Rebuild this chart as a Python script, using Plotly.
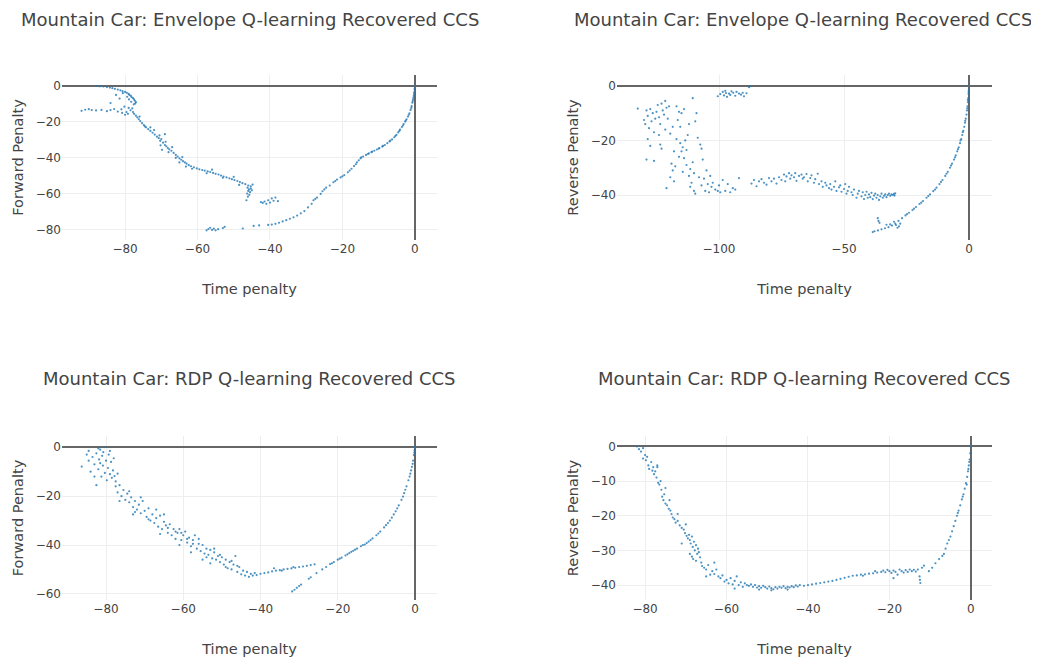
import plotly.graph_objects as go
from plotly.subplots import make_subplots

# ---------------- data ----------------
# Envelope Q-learning: (time penalty, forward penalty)
env_fwd_points = [
    (-88.0,0.0),(-87.0,-0.2),(-86.0,-0.3),(-85.0,-0.6),(-84.2,-0.9),(-83.5,-1.2),(-82.8,-1.6),(-82.0,-2.0),
    (-81.3,-2.4),(-80.7,-2.9),(-80.0,-3.3),(-79.5,-3.8),(-79.0,-4.4),(-78.8,-5.0),(-78.4,-5.5),(-78.2,-6.2),
    (-77.8,-6.8),(-77.5,-7.5),(-77.3,-8.2),(-77.0,-9.0),(-77.2,-9.8),(-77.6,-10.2),(-78.3,-8.8),(-78.9,-7.5),
    (-79.4,-6.0),(-80.6,-4.0),(-82.5,-5.0),(-81.5,-7.0),(-84.0,-9.5),
    (-92.0,-13.8),(-91.0,-13.2),(-90.0,-12.9),(-89.2,-13.4),(-88.0,-13.6),(-86.5,-13.3),(-85.0,-14.0),(-84.0,-13.4),
    (-83.0,-12.8),(-82.0,-14.2),(-81.0,-13.0),(-80.8,-15.0),(-80.2,-11.5),(-79.6,-14.5),(-79.0,-12.2),(-78.5,-13.5),
    (-78.0,-12.5),(-77.8,-14.5),(-80.0,-16.0),(-79.2,-15.5),
    (-77.5,-15.5),(-77.0,-16.5),(-76.6,-17.5),(-76.2,-18.5),(-75.8,-19.5),(-75.3,-20.7),(-74.8,-21.8),(-74.2,-23.0),
    (-73.6,-24.0),(-73.0,-25.0),(-72.4,-26.0),(-71.8,-27.0),(-71.2,-28.2),(-70.7,-29.0),(-70.3,-30.5),(-70.0,-29.5),
    (-69.5,-31.5),(-69.0,-32.8),(-68.6,-33.5),(-68.2,-34.5),(-67.8,-35.2),(-67.2,-36.0),(-66.6,-37.2),(-66.0,-38.3),
    (-65.5,-39.2),(-65.0,-40.2),(-64.5,-41.0),(-64.0,-41.8),(-63.5,-42.5),(-63.0,-43.2),(-62.4,-44.0),(-61.8,-44.6),
    (-61.0,-45.2),(-60.2,-45.8),(-59.5,-46.3),(-58.7,-46.7),(-58.0,-47.0),(-57.2,-47.5),(-56.5,-47.8),(-55.7,-48.3),
    (-55.0,-48.8),(-54.2,-49.2),(-53.5,-49.8),(-52.8,-50.3),(-52.0,-50.8),(-51.2,-51.3),(-50.5,-51.8),(-49.8,-52.3),
    (-49.0,-52.8),(-48.3,-53.4),(-47.6,-54.0),(-46.8,-54.6),(-46.0,-55.3),(-45.3,-55.8),(-44.8,-54.8),
    (-72.0,-24.5),(-70.5,-27.5),(-69.0,-26.8),(-68.8,-31.0),(-70.2,-33.0),(-69.8,-35.5),(-68.0,-36.8),(-67.0,-34.0),
    (-66.0,-40.0),(-65.0,-42.5),(-64.2,-39.5),(-63.2,-44.8),(-61.5,-46.0),(-57.5,-48.5),(-56.0,-46.5),(-53.0,-51.0),
    (-50.0,-50.5),(-48.5,-55.0),(-74.5,-22.5),(-73.0,-23.0),(-76.0,-17.0),
    (-46.2,-56.5),(-45.8,-57.5),(-46.0,-58.3),(-45.5,-59.0),(-46.3,-59.8),(-45.7,-60.5),(-46.1,-61.5),(-45.3,-57.0),
    (-46.5,-63.5),(-45.0,-58.0),
    (-42.5,-64.5),(-42.0,-65.0),(-41.5,-64.2),(-41.0,-65.5),(-40.5,-63.5),(-40.0,-64.8),(-39.5,-62.5),(-39.0,-63.8),
    (-38.5,-62.0),(-37.8,-64.0),
    (-57.5,-80.2),(-57.0,-79.5),(-56.5,-78.8),(-56.0,-80.0),(-55.5,-79.3),(-55.0,-80.2),(-54.3,-79.6),(-53.0,-79.0),
    (-52.5,-78.3),(-47.5,-79.2),(-44.5,-77.8),(-43.0,-77.5),(-40.5,-77.2),(-39.5,-77.0),(-38.5,-76.6),(-37.5,-76.0),
    (-36.5,-75.3),(-35.5,-74.6),(-34.5,-73.8),(-33.5,-73.0),(-32.5,-72.0),(-31.5,-70.8),(-30.5,-69.5),(-29.5,-67.5),
    (-28.5,-65.5),(-28.0,-63.5),(-27.0,-62.0),(-26.0,-60.0),(-25.5,-58.5),(-24.5,-56.5),(-23.5,-55.3),(-22.5,-53.5),
    (-21.5,-52.0),(-20.5,-50.8),(-19.5,-49.5),(-18.5,-48.0),(-17.5,-46.0),(-16.8,-44.5),(-16.0,-42.5),(-15.5,-41.3),
    (-15.0,-40.2),(-14.3,-39.2),(-13.5,-38.3),(-12.7,-37.5),(-12.0,-36.8),(-11.2,-36.0),(-10.5,-35.3),(-9.8,-34.5),
    (-9.0,-33.7),(-8.3,-32.8),(-7.6,-31.8),(-7.0,-30.8),(-6.3,-29.7),(-5.7,-28.5),(-5.1,-27.2),(-4.6,-25.8),
    (-4.1,-24.3),(-3.6,-22.8),(-3.1,-21.2),(-2.7,-19.8),(-2.3,-18.5),(-1.9,-17.0),(-1.5,-15.2),(-1.2,-13.3),
    (-0.9,-11.2),(-0.7,-9.3),(-0.5,-7.5),(-0.3,-5.5),(-0.2,-3.5),(-0.1,-1.8),(0.0,0.0),
    (-13.0,-37.8),(-11.8,-36.5),(-10.0,-34.8),(-8.8,-33.3),(-6.8,-30.4),(-5.4,-27.8),(-4.3,-25.0),(-3.3,-22.0),
    (-2.5,-19.2),(-1.7,-16.0),(-1.0,-12.2),(-0.6,-8.4),(-0.4,-6.5),(-0.25,-4.5),(-14.8,-39.7),(-16.3,-43.5),
    (-18.0,-47.0),(-20.0,-50.2),(-22.0,-52.8),(-25.0,-57.5),(-27.5,-62.8),
]

# Envelope Q-learning: (time penalty, reverse penalty)
env_rev_points = [
    (-100.5,-3.8),(-99.5,-3.0),(-98.5,-2.2),(-98.0,-3.5),(-97.2,-2.6),(-96.8,-4.0),(-96.0,-2.8),(-95.5,-3.3),
    (-95.0,-2.0),(-94.3,-2.5),(-93.5,-3.6),(-93.0,-2.2),(-92.0,-2.8),(-91.2,-3.2),(-90.5,-2.5),(-90.0,-3.8),
    (-89.0,-2.7),(-88.0,-0.5),(-87.6,-0.1),(-97.5,-1.8),
    (-132.5,-8.3),(-130.0,-12.5),(-129.5,-14.0),(-129.0,-9.0),(-128.5,-11.0),(-128.0,-15.5),(-127.5,-8.5),(-127.0,-13.0),
    (-126.5,-10.0),(-126.0,-17.0),(-125.5,-12.0),(-125.0,-9.5),(-124.5,-7.0),(-124.0,-11.5),(-123.5,-14.0),(-123.0,-6.5),
    (-122.5,-9.0),(-122.0,-10.5),(-121.5,-5.5),(-121.0,-8.0),(-120.5,-12.0),(-120.0,-7.5),(-128.5,-19.5),(-129.0,-27.0),
    (-126.0,-27.5),(-123.5,-21.5),(-123.0,-23.0),(-121.0,-37.5),(-119.5,-33.5),(-119.0,-28.5),(-118.5,-31.0),(-118.0,-35.0),
    (-117.5,-29.5),(-117.0,-7.5),(-116.5,-12.5),(-116.0,-9.5),(-115.5,-15.0),(-115.0,-10.0),(-115.5,-21.0),(-115.0,-24.0),
    (-114.5,-22.5),(-114.0,-26.5),(-113.5,-20.0),(-113.0,-23.5),(-112.5,-18.0),(-112.0,-33.0),(-111.5,-30.5),(-111.0,-35.5),
    (-110.5,-28.0),(-110.0,-32.0),(-110.5,-4.5),(-109.5,-13.0),(-109.0,-10.0),(-108.5,-19.0),(-108.0,-33.5),(-107.5,-21.5),
    (-107.0,-36.5),(-106.5,-27.0),(-106.0,-34.0),(-105.5,-38.5),(-105.0,-31.0),(-104.5,-36.0),(-104.0,-39.0),(-103.5,-33.0),
    (-103.0,-37.0),(-102.5,-35.5),(-101.5,-38.0),(-100.5,-38.5),(-100.0,-36.5),(-99.5,-39.0),(-98.5,-34.5),(-97.5,-38.5),
    (-96.5,-36.0),(-95.5,-39.0),(-94.5,-37.5),(-93.5,-38.0),(-92.0,-33.8),(-110.0,-38.5),(-109.5,-39.5),(-111.5,-37.0),
    (-113.0,-29.0),(-114.5,-31.5),(-116.0,-26.0),(-117.0,-19.5),(-118.0,-24.0),(-119.5,-17.5),(-121.5,-16.0),(-124.0,-18.0),
    (-127.5,-22.0),(-112.0,-14.0),(-114.0,-8.5),(-118.5,-15.0),(-107.0,-23.0),
    (-87.0,-35.8),(-86.0,-34.5),(-85.0,-36.8),(-84.0,-35.0),(-83.0,-34.2),(-82.0,-35.5),(-81.0,-36.2),(-80.0,-33.8),
    (-79.0,-35.0),(-78.0,-34.0),(-77.0,-35.8),(-76.0,-33.5),(-75.0,-34.5),(-74.0,-32.5),(-73.5,-35.0),(-73.0,-33.2),
    (-72.0,-32.0),(-71.5,-34.0),(-71.0,-32.8),(-70.0,-33.5),(-69.5,-32.0),(-69.0,-34.8),(-68.0,-33.0),(-67.0,-32.5),
    (-66.5,-34.0),(-66.0,-33.5),(-65.0,-32.3),(-64.5,-35.0),(-63.5,-33.8),(-63.0,-32.8),(-62.0,-35.5),(-61.5,-34.2),
    (-60.5,-32.2),(-60.0,-36.0),(-59.0,-35.0),(-58.5,-37.0),(-57.5,-35.5),(-57.0,-36.5),(-56.0,-37.5),(-55.5,-36.0),
    (-55.0,-38.0),(-54.0,-37.0),(-53.5,-35.0),(-53.0,-38.5),(-52.0,-37.2),(-51.5,-36.5),(-51.0,-38.8),(-50.0,-37.8),
    (-49.5,-36.0),(-49.0,-39.5),(-48.5,-38.5),(-48.0,-37.0),(-47.0,-39.0),(-46.5,-40.0),(-46.0,-38.0),(-45.0,-41.0),
    (-44.5,-39.5),(-44.0,-38.5),(-43.0,-40.5),(-42.5,-39.0),(-42.0,-41.5),(-41.5,-40.0),(-41.0,-38.8),(-40.5,-41.0),
    (-40.0,-39.8),(-39.5,-40.8),(-39.0,-39.2),(-38.5,-41.5),(-38.0,-40.2),(-37.5,-39.5),(-37.0,-41.0),(-36.5,-40.0),
    (-36.0,-41.8),(-35.5,-40.5),(-35.0,-39.5),(-34.5,-41.0),(-34.0,-40.3),(-33.5,-39.8),(-33.0,-40.8),(-32.5,-40.0),
    (-32.0,-39.5),(-31.5,-40.3),(-31.0,-39.8),(-30.5,-40.0),(-30.0,-39.6),(-29.8,-40.2),(-29.5,-39.4),
    (0.0,0.0),(-0.1,-1.5),(-0.2,-3.0),(-0.3,-4.5),(-0.45,-6.0),(-0.6,-7.5),(-0.8,-9.0),(-1.0,-10.5),
    (-1.3,-12.0),(-1.6,-13.5),(-1.9,-15.0),(-2.3,-16.5),(-2.7,-18.0),(-3.1,-19.5),(-3.6,-21.0),(-4.1,-22.5),
    (-4.7,-24.0),(-5.3,-25.5),(-6.0,-27.0),(-6.8,-28.5),(-7.6,-30.0),(-8.5,-31.5),(-9.5,-33.0),(-10.6,-34.5),
    (-11.8,-36.0),(-13.0,-37.3),(-14.3,-38.6),(-15.6,-39.8),(-17.0,-41.0),(-18.4,-42.2),(-19.8,-43.3),(-21.2,-44.4),
    (-22.6,-45.5),(-24.0,-46.5),(-25.4,-47.5),(-26.8,-48.5),(-28.2,-49.5),(-29.5,-50.5),(-30.8,-51.2),(-32.2,-51.8),
    (-33.6,-52.2),(-35.0,-52.6),(-36.4,-53.0),(-37.8,-53.3),(-38.5,-53.6),
    (-28.0,-51.5),(-28.6,-52.0),(-29.2,-51.0),(-30.0,-49.8),(-27.5,-50.5),(-31.5,-50.8),(-33.0,-50.9),(-36.5,-48.5),
    (-36.2,-49.5),(-35.8,-50.2),(-1.5,-12.8),(-2.5,-17.0),(-3.4,-20.0),(-4.4,-23.2),(-5.6,-26.2),(-7.2,-29.2),
    (-9.0,-32.2),(-11.2,-35.2),(-13.6,-38.0),(-16.3,-40.4),(-19.1,-42.8),(-22.0,-45.0),(-24.8,-47.0),(-0.5,-5.2),
    (-0.7,-8.2),(-0.15,-2.2),
]

# RDP Q-learning: (time penalty, forward penalty)
rdp_fwd_points = [
    (-86.3,-7.9),(-85.0,-3.0),(-84.5,-5.5),(-84.0,-10.0),(-83.5,-4.0),(-83.0,-7.0),(-82.5,-2.5),(-82.0,-9.0),
    (-81.8,-5.0),(-81.5,-1.0),(-81.2,-12.0),(-81.0,-3.5),(-80.8,-7.5),(-80.5,0.0),(-80.3,-10.5),(-80.0,-5.5),
    (-79.8,-13.5),(-79.5,-8.5),(-79.3,-3.0),(-79.0,-11.0),(-78.7,-6.0),(-78.5,-12.5),(-78.2,-9.5),(-78.0,-4.5),
    (-77.8,-11.8),(-77.5,-14.0),(-77.0,-10.8),(-82.5,-15.5),(-83.0,-12.0),(-81.5,-6.5),(-80.7,-2.0),(-79.0,-1.5),
    (-84.5,-1.5),(-82.0,-0.5),
    (-77.5,-16.0),(-77.0,-18.5),(-76.5,-15.5),(-76.0,-20.0),(-75.5,-17.5),(-75.0,-21.5),(-74.5,-19.0),(-74.0,-22.5),
    (-73.5,-20.5),(-73.0,-24.5),(-72.5,-22.0),(-72.0,-25.5),(-71.5,-23.5),(-71.0,-27.0),(-70.5,-22.0),(-70.0,-26.0),
    (-69.5,-28.5),(-69.0,-25.0),(-68.5,-30.0),(-68.0,-27.5),(-67.5,-31.0),(-67.0,-29.0),(-66.5,-32.5),(-66.0,-28.0),
    (-65.5,-33.5),(-65.0,-30.5),(-64.5,-32.0),(-64.0,-35.0),(-63.5,-31.5),(-63.0,-36.0),(-62.5,-33.5),(-62.0,-37.5),
    (-61.5,-35.0),(-61.0,-33.5),(-60.5,-38.0),(-60.0,-36.0),(-59.5,-34.5),(-59.0,-39.0),(-58.5,-37.0),(-58.0,-40.5),
    (-57.5,-38.0),(-57.0,-36.0),(-56.5,-41.5),(-56.0,-39.5),(-55.5,-42.5),(-55.0,-40.0),(-54.5,-43.5),(-54.0,-41.5),
    (-53.5,-44.0),(-53.0,-42.0),(-52.5,-45.5),(-52.0,-43.0),(-51.5,-46.0),(-51.0,-44.5),(-50.5,-47.0),(-50.0,-45.0),
    (-49.5,-48.0),(-49.0,-46.0),(-48.5,-49.5),(-48.0,-47.0),(-47.5,-50.0),(-47.0,-48.0),(-46.5,-44.5),(-46.0,-51.0),
    (-45.5,-49.0),(-45.0,-52.0),(-44.5,-50.5),(-44.0,-52.5),(-43.5,-51.0),(-43.0,-53.0),(-42.5,-51.8),(-42.0,-52.5),
    (-41.5,-51.5),(-41.0,-52.3),
    (-74.0,-18.0),(-72.5,-26.5),(-71.0,-20.5),(-69.0,-29.5),(-67.0,-25.5),(-65.0,-27.5),(-64.0,-33.0),(-62.0,-34.5),
    (-60.5,-35.0),(-59.0,-37.5),(-57.5,-39.5),(-56.0,-37.5),(-54.0,-45.0),(-52.0,-41.5),(-50.5,-44.0),(-49.0,-49.0),
    (-47.5,-46.5),(-46.0,-48.5),(-58.0,-43.0),(-55.0,-46.0),(-53.0,-47.5),(-76.5,-22.0),(-73.0,-27.5),(-66.0,-35.5),
    (-61.0,-40.0),
    (-40.0,-51.8),(-39.0,-51.5),(-38.0,-51.2),(-37.0,-50.8),(-36.5,-49.5),(-36.0,-50.5),(-35.0,-50.3),(-34.0,-50.0),
    (-33.0,-49.8),(-32.0,-49.6),(-31.0,-49.3),(-30.0,-49.0),(-29.0,-48.8),(-28.0,-48.5),(-27.0,-48.2),(-26.0,-47.9),
    (-34.5,-50.5),(-31.5,-49.0),
    (-31.8,-59.0),(-31.2,-58.3),(-30.6,-57.5),(-30.0,-56.8),(-29.5,-56.2),(-27.5,-53.8),(-27.0,-53.2),(-25.5,-51.5),
    (-24.0,-50.0),(-23.0,-49.0),(-22.0,-47.8),(-21.0,-47.0),(-20.0,-46.0),(-19.0,-45.2),(-18.0,-44.3),(-17.0,-43.3),
    (-16.0,-42.4),(-15.0,-41.5),(-14.0,-40.5),(-13.0,-39.8),(-12.0,-38.6),(-11.0,-37.3),(-10.0,-36.0),(-9.0,-34.5),
    (-8.0,-32.8),(-7.0,-31.0),(-6.0,-28.8),(-5.0,-26.2),(-4.2,-23.8),(-3.5,-21.5),(-2.8,-18.8),(-2.2,-16.0),
    (-1.7,-13.5),(-1.2,-10.8),(-0.8,-8.0),(-0.5,-5.5),(-0.3,-3.2),(-0.1,-1.2),(0.0,0.0),
    (-21.5,-47.5),(-19.5,-45.6),(-17.5,-43.8),(-15.5,-41.9),(-13.5,-40.0),(-11.5,-38.0),(-9.5,-35.3),(-7.5,-31.9),
    (-6.5,-30.0),(-5.5,-27.5),(-4.6,-25.0),(-3.1,-20.2),(-2.5,-17.4),(-1.4,-12.0),(-1.0,-9.5),(-0.6,-6.8),
    (-0.2,-2.2),(-16.5,-42.8),(-12.5,-39.2),
]

# RDP Q-learning: (time penalty, reverse penalty)
rdp_rev_points = [
    (-82.0,0.0),(-81.5,-0.8),(-81.0,-1.5),(-80.5,-0.5),(-80.0,-2.5),(-79.8,-4.0),(-79.5,-3.0),(-79.2,-5.5),
    (-79.0,-6.5),(-78.5,-4.5),(-78.2,-7.0),(-78.0,-6.0),(-77.8,-8.0),(-77.5,-7.2),(-77.2,-9.0),(-77.0,-6.0),
    (-76.8,-10.5),(-76.5,-11.0),(-76.2,-10.0),(-76.0,-12.5),(-75.8,-14.5),(-75.5,-15.5),(-75.3,-13.8),(-75.0,-16.5),
    (-74.6,-17.0),(-74.2,-18.0),(-73.8,-18.5),(-73.5,-19.5),(-73.2,-20.5),(-72.8,-21.0),(-72.5,-22.0),(-72.0,-21.5),
    (-71.5,-22.8),(-71.0,-23.5),(-70.5,-24.0),(-70.2,-25.0),(-69.8,-25.8),(-69.5,-26.5),(-69.2,-25.5),(-69.0,-27.0),
    (-68.8,-28.0),(-68.5,-26.0),(-68.3,-29.0),(-68.0,-27.5),(-67.8,-30.0),(-67.5,-28.5),(-67.2,-31.0),(-67.0,-29.5),
    (-66.8,-30.5),(-66.5,-32.0),(-66.2,-33.5),(-68.5,-31.8),(-68.2,-32.5),(-69.0,-31.0),(-66.0,-34.5),(-65.5,-35.0),
    (-65.0,-35.5),(-64.5,-34.2),(-64.0,-37.0),(-63.5,-36.0),(-63.0,-36.8),(-62.5,-35.5),(-62.0,-37.5),(-61.5,-38.0),
    (-61.0,-37.2),(-60.5,-39.0),(-60.0,-38.5),(-59.5,-39.5),(-59.0,-38.0),(-58.5,-39.8),(-58.0,-38.8),(-57.5,-37.5),
    (-57.0,-40.0),(-56.5,-39.2),(-56.0,-40.5),(-55.5,-39.5),(-55.0,-40.0),(-58.0,-41.0),(-74.0,-15.5),(-72.0,-19.5),
    (-70.0,-22.5),(-71.0,-28.0),(-67.5,-33.0),(-65.0,-37.5),(-77.0,-5.5),(-80.5,-3.5),(-75.0,-12.0),(-63.0,-33.5),
    (-54.5,-40.2),(-54.0,-39.8),(-53.5,-40.5),(-53.0,-40.0),(-52.5,-40.7),(-52.0,-40.3),(-51.5,-40.8),(-51.0,-40.2),
    (-50.5,-40.6),(-50.0,-41.0),(-49.5,-40.4),(-49.0,-40.9),(-48.5,-41.2),(-48.0,-40.6),(-47.5,-41.0),(-47.0,-40.5),
    (-46.5,-40.8),(-46.0,-40.3),(-45.5,-40.9),(-45.0,-40.5),(-44.5,-40.7),(-44.0,-40.3),(-43.5,-40.6),(-43.0,-40.1),
    (-42.5,-40.4),(-42.0,-40.0),(-41.0,-40.2),(-40.0,-40.0),(-39.0,-39.8),(-38.0,-39.6),(-37.0,-39.4),(-36.0,-39.2),
    (-35.0,-39.0),(-34.0,-38.8),(-33.0,-38.5),(-32.0,-38.2),(-31.0,-37.9),(-30.0,-37.6),(-29.0,-37.3),(-28.0,-37.2),
    (-27.0,-37.0),(-26.0,-36.9),(-25.0,-36.7),(-24.0,-36.6),(-23.0,-36.4),(-22.0,-36.2),(-21.5,-35.8),(-21.0,-36.3),
    (-20.5,-35.6),(-20.0,-36.0),(-19.5,-36.5),(-19.0,-35.8),(-18.5,-36.2),(-18.0,-37.0),(-17.5,-35.5),(-17.0,-36.0),
    (-16.5,-36.4),(-16.0,-35.7),(-15.5,-36.2),(-15.0,-35.5),(-14.5,-36.0),(-14.0,-35.6),(-13.5,-36.1),(-13.0,-35.5),
    (-12.6,-37.5),(-12.5,-38.5),(-12.4,-39.4),(-12.0,-35.0),(-11.5,-34.4),(-19.0,-38.0),(-49.0,-41.5),(-52.0,-41.3),
    (-45.0,-41.3),(-23.5,-36.0),(-26.5,-37.3),
    (-10.3,-36.0),(-9.5,-35.0),(-8.7,-33.7),(-7.8,-32.5),(-7.0,-31.6),(-6.6,-31.0),(-6.2,-29.5),(-5.8,-28.0),
    (-5.4,-27.0),(-5.0,-26.0),(-4.6,-24.5),(-4.2,-23.0),(-3.8,-21.5),(-3.4,-20.0),(-3.0,-18.5),(-2.6,-17.0),
    (-2.2,-15.3),(-1.8,-13.8),(-1.5,-12.2),(-1.2,-10.6),(-0.9,-8.8),(-0.7,-7.2),(-0.5,-5.5),(-0.3,-3.8),
    (-0.15,-2.0),(0.0,0.0),(-1.0,-11.0),(-0.6,-6.5),(-0.4,-4.5),(-2.0,-14.5),(-3.2,-19.2),
]

titles = [
    "Mountain Car: Envelope Q-learning Recovered CCS",
    "Mountain Car: Envelope Q-learning Recovered CCS",
    "Mountain Car: RDP Q-learning Recovered CCS",
    "Mountain Car: RDP Q-learning Recovered CCS",
]
x_titles = ["Time penalty"] * 4
y_titles = ["Forward Penalty", "Reverse Penalty", "Forward Penalty", "Reverse Penalty"]
x_ranges = [[-97.4, 6.1], [-140.8, 9.2], [-91.4, 5.7], [-86.9, 5.2]]
y_ranges = [[-85.6, 6.1], [-56.5, 4.0], [-62.5, 4.6], [-44.3, 3.0]]
x_dticks = [20, 50, 20, 20]
y_dticks = [20, 20, 20, 10]

# ---------------- figure ----------------
FONT = "DejaVu Sans"
TXT = "#444"
OFF = 8                       # page body margin: figure starts at (8, 8) on the page
W, H = 1039 - OFF, 665 - 2 * OFF
# plot-area edges in page pixels
ML, MT = 62 - OFF, 75 - OFF
MR = (OFF + W) - 992
MB = (OFF + H) - 600
pw, ph = W - ML - MR, H - MT - MB


def fx(page_px):
    return (page_px - OFF - ML) / pw


def fy(page_py):
    return 1 - (page_py - OFF - MT) / ph


fig = make_subplots(rows=2, cols=2)
datasets = [env_fwd_points, env_rev_points, rdp_fwd_points, rdp_rev_points]
cells = [(1, 1), (1, 2), (2, 1), (2, 2)]
for pts, (r, c) in zip(datasets, cells):
    xs = [p[0] for p in pts]
    ys = [p[1] for p in pts]
    fig.add_trace(go.Scatter(x=xs, y=ys, mode="markers",
                             marker=dict(size=2.2, color="#1f77b4", opacity=0.8),
                             showlegend=False, hoverinfo="x+y"), row=r, col=c)

x_doms = [[fx(62), fx(437)], [fx(617), fx(992)], [fx(62), fx(437)], [fx(617), fx(992)]]
y_doms = [[fy(240), fy(75)], [fy(240), fy(75)], [fy(600), fy(436)], [fy(600), fy(436)]]

for i in range(4):
    sfx = "" if i == 0 else str(i + 1)
    fig.layout["xaxis" + sfx].update(
        domain=x_doms[i], range=x_ranges[i], dtick=x_dticks[i], tick0=0,
        showgrid=True, gridcolor="#eee", zeroline=True, zerolinecolor="#666", zerolinewidth=1.5,
        showline=False, ticks="", tickfont=dict(family=FONT, size=12, color=TXT),
        title=dict(text=x_titles[i], font=dict(family=FONT, size=14.5, color=TXT)))
    fig.layout["yaxis" + sfx].update(
        domain=y_doms[i], range=y_ranges[i], dtick=y_dticks[i], tick0=0,
        showgrid=True, gridcolor="#eee", zeroline=True, zerolinecolor="#666", zerolinewidth=1.5,
        showline=False, ticks="", tickfont=dict(family=FONT, size=12, color=TXT),
        title=dict(text=y_titles[i], font=dict(family=FONT, size=14.5, color=TXT)))

title_pos = [(249.5, 20), (803.0, 20), (249.5, 378), (804.5, 378)]
for t, (px, py) in zip(titles, title_pos):
    fig.add_annotation(text=t, xref="paper", yref="paper", x=fx(px), y=fy(py),
                       xanchor="center", yanchor="middle", showarrow=False,
                       font=dict(family=FONT, size=18, color=TXT))

fig.update_layout(template="none", width=W, height=H,
                  margin=dict(l=ML, r=MR, t=MT, b=MB, autoexpand=False),
                  paper_bgcolor="white", plot_bgcolor="white",
                  font=dict(family=FONT, color=TXT))

fig.write_html("out.html")
